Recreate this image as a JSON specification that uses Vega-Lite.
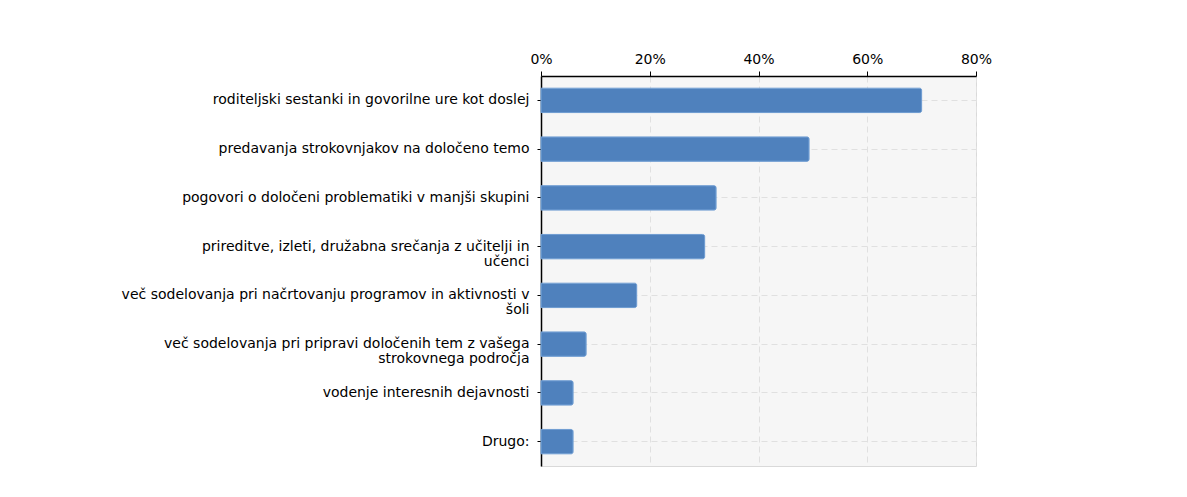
{
  "$schema": "https://vega.github.io/schema/vega-lite/v6.json",
  "autosize": "none",
  "padding": {"left": 541, "top": 76, "right": 211, "bottom": 31},
  "width": 435,
  "height": 390,
  "background": "white",
  "config": {
    "font": "DejaVu Sans",
    "view": {"fill": "#f6f6f6", "stroke": "#d9d9d9", "strokeWidth": 1}
  },
  "data": {
    "values": [
      {"label": "roditeljski sestanki in govorilne ure kot doslej", "value": 0.70},
      {"label": "predavanja strokovnjakov na določeno temo", "value": 0.493},
      {"label": "pogovori o določeni problematiki v manjši skupini", "value": 0.322},
      {"label": "prireditve, izleti, družabna srečanja z učitelji in\nučenci", "value": 0.301},
      {"label": "več sodelovanja pri načrtovanju programov in aktivnosti v\nšoli", "value": 0.176},
      {"label": "več sodelovanja pri pripravi določenih tem z vašega\nstrokovnega področja", "value": 0.083},
      {"label": "vodenje interesnih dejavnosti", "value": 0.059},
      {"label": "Drugo:", "value": 0.059}
    ]
  },
  "mark": {"type": "bar", "color": "#4f81bd", "stroke": "#6d9bd1", "strokeWidth": 1, "cornerRadiusEnd": 2},
  "encoding": {
    "y": {
      "field": "label",
      "type": "nominal",
      "sort": null,
      "scale": {"paddingInner": 0.5, "paddingOuter": 0.25},
      "axis": {
        "title": null,
        "labelExpr": "split(datum.label, '\\n')",
        "labelFontSize": 14,
        "labelColor": "#000",
        "labelLimit": 600,
        "labelPadding": 8,
        "tickColor": "#000",
        "tickSize": 4,
        "domainColor": "#000",
        "domainWidth": 1.5,
        "grid": true,
        "gridColor": "#e0e0e0",
        "gridDash": [6, 4],
        "labelLineHeight": 15
      }
    },
    "x": {
      "field": "value",
      "type": "quantitative",
      "scale": {"domain": [0, 0.8], "nice": false},
      "axis": {
        "orient": "top",
        "title": null,
        "format": ".0%",
        "values": [0, 0.2, 0.4, 0.6, 0.8],
        "labelFontSize": 14,
        "labelColor": "#000",
        "labelPadding": 5,
        "labelFlush": false,
        "tickColor": "#000",
        "tickSize": 5,
        "domainColor": "#000",
        "domainWidth": 1.5,
        "grid": true,
        "gridColor": "#e0e0e0",
        "gridDash": [6, 4]
      }
    }
  }
}
